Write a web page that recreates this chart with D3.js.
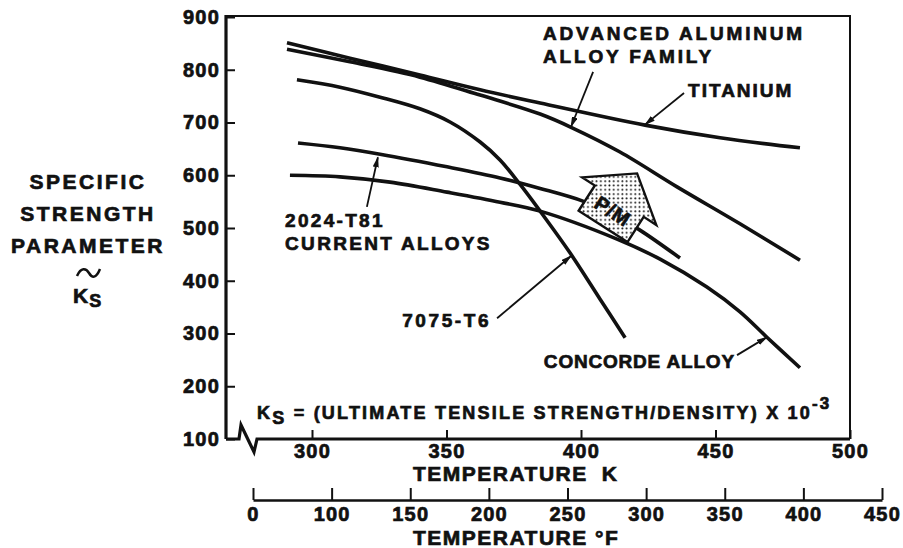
<!DOCTYPE html>
<meta charset="utf-8">

<style type="text/css">
    body { margin: 0; background: #fff; }
    text {
        font-family: "Liberation Sans", Arial, Helvetica, sans-serif;
        font-weight: bold;
        fill: #111;
        stroke: #111;
        stroke-width: 0.7px;
    }
    .axis path, .axis line { stroke: #111; fill: none; }
    .axis text { font-size: 20px; letter-spacing: 1.2px; }
    .note { font-size: 19px; letter-spacing: 2.6px; }
    .title { font-size: 21px; letter-spacing: 2.5px; }
</style>

<script src="https://d3js.org/d3.v7.min.js"></script>

<div id="my_dataviz"></div>

<script>

// tick labels
var ksTicks = [100, 200, 300, 400, 500, 600, 700, 800, 900];
var kelvinTicks = [300, 350, 400, 450, 500];
var fahrenheitTicks = ["0", "100", "150", "200", "250", "300", "350", "400", "450"];

// curves: temperature (K) and specific strength Ks
var titaniumK  = [290.7, 314.1, 340.1, 362.5, 384.8, 423.8, 451.7, 481.4];
var titaniumKs = [851, 822, 790, 762, 737, 695, 671, 652];

var advancedK  = [290.7, 314.1, 340.1, 362.5, 384.8, 396.7, 414.5, 435.7, 459.1, 481.4];
var advancedKs = [839, 815, 786, 752, 716, 690, 644, 578, 508, 439];

var al7075K  = [294.4, 310.4, 325.3, 340.1, 351.3, 362.5, 369.9, 377.3, 384.8, 395.9, 407.1, 416.4];
var al7075Ks = [781, 767, 748, 726, 701, 663, 629, 583, 532, 453, 365, 292];

var al2024K  = [294.8, 310.4, 325.3, 350.2, 369.9, 384.8, 400.7, 411.5, 421.9, 436.8];
var al2024Ks = [661, 652, 640, 616, 595, 575, 551, 527, 496, 443];

var concordeK  = [291.8, 310.4, 329.0, 350.2, 369.9, 384.8, 413.4, 429.4, 446.8, 459.1, 469.1, 481.4];
var concordeKs = [600, 597, 587, 568, 549, 532, 479, 441, 388, 341, 293, 235];

var series = [
    [titaniumK, titaniumKs],
    [advancedK, advancedKs],
    [al7075K, al7075Ks],
    [al2024K, al2024Ks],
    [concordeK, concordeKs]
];

// labels and leader arrows, in data units (K, Ks)
var labels = [
    {lines: ["ADVANCED ALUMINUM", "ALLOY FAMILY"], k: 385.9, ks: 856, anchor: "start", ls: 2.8},
    {lines: ["TITANIUM"], k: 439.8, ks: 748, anchor: "start", ls: 2},
    {lines: ["2024-T81", "CURRENT ALLOYS"], k: 290, ks: 502, anchor: "start", ls: 2.3},
    {lines: ["7075-T6"], k: 366.6, ks: 312, anchor: "end", ls: 2.6},
    {lines: ["CONCORDE ALLOY"], k: 457.2, ks: 235, anchor: "end", ls: 0.8}
];
var leaders = [
    [404.5, 796, 396.3, 692],
    [438.3, 756, 423.8, 696],
    [320.4, 540, 324.5, 634],
    [368.8, 329, 396.3, 447],
    [458.0, 259, 469.1, 293]
];

var width = 903, height = 548;
var yAxisX = 226;      // vertical axis sits left of 300 K (axis break)

var svg = d3.select("#my_dataviz")
  .append("svg")
    .attr("width", width)
    .attr("height", height);

var x = d3.scaleLinear().domain([300, 500]).range([312, 850]);
var y = d3.scaleLinear().domain([100, 900]).range([439, 17]);
var xF = d3.scalePoint().domain(fahrenheitTicks).range([253, 882]);

// dotted fill for the P/M arrow
var defs = svg.append("defs");
var pat = defs.append("pattern")
    .attr("id", "dots")
    .attr("patternUnits", "userSpaceOnUse")
    .attr("width", 4.3).attr("height", 4.3)
    .attr("patternTransform", "rotate(-32.7)");
pat.append("rect").attr("width", 4.3).attr("height", 4.3).attr("fill", "#fff");
pat.append("circle").attr("cx", 2.1).attr("cy", 2.1).attr("r", 0.95).attr("fill", "#111");

defs.append("marker")
    .attr("id", "head")
    .attr("markerUnits", "userSpaceOnUse")
    .attr("viewBox", "0 0 11 6")
    .attr("refX", 10).attr("refY", 3)
    .attr("markerWidth", 11).attr("markerHeight", 6)
    .attr("orient", "auto")
  .append("path")
    .attr("d", "M0,0L11,3L0,6z")
    .attr("fill", "#111");

// frame: top and right edges
svg.append("path")
    .attr("d", "M" + yAxisX + "," + (y(900) - 1) + "H" + x(500) + "V" + y(100))
    .attr("fill", "none")
    .attr("stroke", "#111")
    .attr("stroke-width", 2);

// Y axis
var yAxis = svg.append("g")
    .attr("class", "axis")
    .attr("transform", "translate(" + yAxisX + ",0)")
    .call(d3.axisLeft(y).tickValues(ksTicks).tickSizeInner(-9).tickSizeOuter(0).tickPadding(6));
yAxis.select(".domain").attr("stroke-width", 3.2).attr("d", "M0," + y(100) + "V" + (y(900) - 2));
yAxis.selectAll(".tick line").attr("stroke-width", 2);

// K axis with a break next to the vertical axis
var xAxis = svg.append("g")
    .attr("class", "axis")
    .attr("transform", "translate(0," + y(100) + ")")
    .call(d3.axisBottom(x).tickValues(kelvinTicks).tickSizeInner(-9).tickSizeOuter(0).tickPadding(5));
xAxis.select(".domain")
    .attr("d", "M" + yAxisX + ",0H" + (yAxisX + 13) + "L" + (yAxisX + 15) + ",-14L" + (yAxisX + 28) + ",13L"
        + (yAxisX + 31) + ",0H" + x(500))
    .attr("stroke-width", 3.2)
    .attr("stroke-linejoin", "miter");
xAxis.selectAll(".tick line").attr("stroke-width", 2);

// Fahrenheit axis
var fAxis = svg.append("g")
    .attr("class", "axis")
    .attr("transform", "translate(0,500)")
    .call(d3.axisBottom(xF).tickSizeInner(-12).tickSizeOuter(0).tickPadding(7));
fAxis.select(".domain").attr("stroke-width", 2.6);
fAxis.selectAll(".tick line").attr("stroke-width", 2);

// axis titles
var tk = svg.append("text").attr("class", "title").attr("x", 413).attr("y", 481)
    .style("letter-spacing", "1.5px");
tk.append("tspan").text("TEMPERATURE");
tk.append("tspan").attr("dx", 14).text("K");
svg.append("text").attr("class", "title").attr("x", 413).attr("y", 545)
    .style("letter-spacing", "1.5px")
    .text("TEMPERATURE \u00B0F");

var ytitle = ["SPECIFIC", "STRENGTH", "PARAMETER"];
svg.selectAll(".ytitle")
  .data(ytitle)
  .enter()
  .append("text")
    .attr("class", "title")
    .attr("x", 88)
    .attr("y", function (d, i) { return 189 + i * 32; })
    .attr("text-anchor", "middle")
    .text(function (d) { return d; });
svg.append("path")
    .attr("d", "M77,276C81,267 86,268 89,273S96,279 100,269")
    .attr("fill", "none").attr("stroke", "#111").attr("stroke-width", 2.5);
var ks = svg.append("text").attr("class", "title").attr("x", 73).attr("y", 303).style("letter-spacing", "1px");
ks.append("tspan").text("K");
ks.append("tspan").attr("dy", 4).style("font-size", "18px").text("S");

// formula
var f = svg.append("text").attr("class", "note").attr("x", x(279.6)).attr("y", y(138))
    .style("font-size", "18px").style("letter-spacing", "2.2px");
f.append("tspan").text("K");
f.append("tspan").attr("dy", 5).text("S");
f.append("tspan").attr("dy", -5).text(" = (ULTIMATE TENSILE STRENGTH/DENSITY) X 10");
f.append("tspan").attr("dy", -10).style("font-size", "17px").text("-3");

// curves
var line = d3.line()
    .x(function (d) { return x(d[0]); })
    .y(function (d) { return y(d[1]); })
    .curve(d3.curveCatmullRom.alpha(0.5));

svg.selectAll(".curve")
  .data(series)
  .enter()
  .append("path")
    .attr("class", "curve")
    .attr("d", function (d) { return line(d3.zip(d[0], d[1])); })
    .attr("fill", "none")
    .attr("stroke", "#111")
    .attr("stroke-width", 3.6)
    .attr("stroke-linecap", "butt");

// P/M arrow
var pm = svg.append("g")
    .attr("transform", "translate(" + x(408.2) + "," + y(503) + ") rotate(32.7)");
pm.append("path")
    .attr("d", "M-29,0L29,0L29,-30L44,-30L0,-63L-44,-30L-29,-30Z")
    .attr("fill", "url(#dots)")
    .attr("stroke", "#111")
    .attr("stroke-width", 2.4)
    .attr("stroke-linejoin", "miter");
pm.append("text")
    .attr("x", 0).attr("y", -11)
    .attr("text-anchor", "middle")
    .style("font-size", "20px")
    .style("letter-spacing", "1px")
    .text("P/M");

// leader arrows
svg.selectAll(".leader")
  .data(leaders)
  .enter()
  .append("line")
    .attr("class", "leader")
    .attr("x1", function (d) { return x(d[0]); })
    .attr("y1", function (d) { return y(d[1]); })
    .attr("x2", function (d) { return x(d[2]); })
    .attr("y2", function (d) { return y(d[3]); })
    .attr("stroke", "#111")
    .attr("stroke-width", 1.8)
    .attr("marker-end", "url(#head)");

// labels
labels.forEach(function (l) {
    var t = svg.append("text")
        .attr("class", "note")
        .attr("text-anchor", l.anchor)
        .attr("x", x(l.k))
        .attr("y", y(l.ks))
        .style("letter-spacing", l.ls + "px");
    l.lines.forEach(function (s, i) {
        t.append("tspan")
            .attr("x", x(l.k))
            .attr("dy", i === 0 ? 0 : 23)
            .text(s);
    });
});

</script>
